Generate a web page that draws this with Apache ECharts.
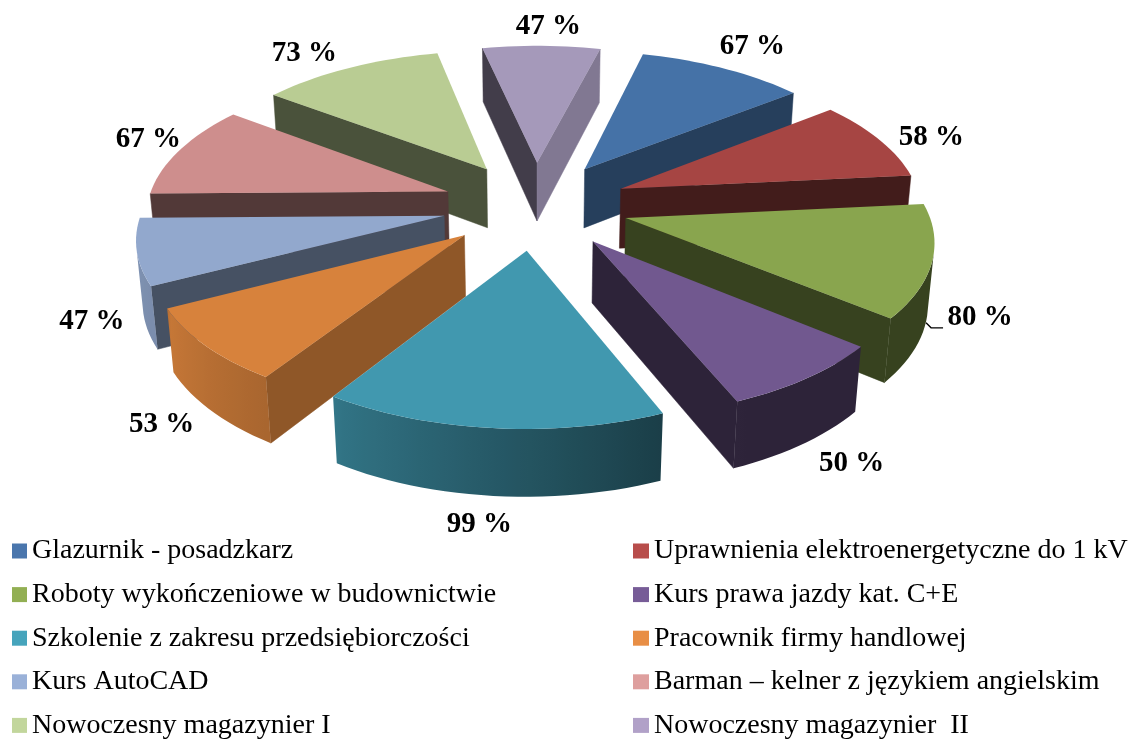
<!DOCTYPE html>
<html>
<head>
<meta charset="utf-8">
<style>
  html, body { margin: 0; padding: 0; background: #fff; }
  #chart { width: 1131px; height: 740px; }
</style>
</head>
<body>
<div id="chart"></div>
<script src="https://cdn.jsdelivr.net/npm/echarts@6/dist/echarts.min.js"></script>
<script>
const categories = [
  'Glazurnik - posadzkarz',
  'Uprawnienia elektroenergetyczne do 1 kV',
  'Roboty wykończeniowe w budownictwie',
  'Kurs prawa jazdy kat. C+E',
  'Szkolenie z zakresu przedsiębiorczości',
  'Pracownik firmy handlowej',
  'Kurs AutoCAD',
  'Barman – kelner z językiem angielskim',
  'Nowoczesny magazynier I',
  'Nowoczesny magazynier  II'
]
const values = [67, 58, 80, 50, 99, 53, 47, 67, 73, 47]
const topColors = ['#4572A7', '#A64543', '#89A54E', '#71588F', '#4198AF', '#D7823C', '#92A8CD', '#CE8E8D', '#B9CC93', '#A599BA']
const legendColors = ['#4A76AD', '#B84D4B', '#92AF53', '#775C97', '#46A4BC', '#E88E45', '#9AB1D8', '#DE9F9E', '#C2D69C', '#B1A1C8']
// label position relative to the middle of the slice's outer arc
const labelOffsets = [[29, -22], [52, -2], [48, 56], [44, 86], [-13, 96], [-44, 79], [-45, 69], [-31, -11], [-45, -14], [7, -19]]

// 3d view, fitted by eye to the picture
const FIRST_ANGLE = 14.2
const EXPLODE = 0.31
const HEIGHT = 0.23
const CAM_DIST = 6.8
const FOCAL = 2045
const ELEV = 28.2 * Math.PI / 180
const CX = 535.5
const CY = 205
const LEADER_SLICE = 2 // only the 80 % label has a leader line

const sinE = Math.sin(ELEV)
const cosE = Math.cos(ELEV)
const total = values.reduce((s, v) => s + v, 0)
const rad = (a) => a * Math.PI / 180

function project(x, y, z) {
  const w = CAM_DIST + y * cosE - z * sinE
  return [CX + FOCAL * x / w, CY - FOCAL * (y * sinE + z * cosE) / w]
}

function shade(hex, k) {
  const n = parseInt(hex.slice(1), 16)
  const c = [n >> 16, (n >> 8) & 255, n & 255].map((v) => Math.round(v * k))
  return `rgb(${c.join(',')})`
}

// side walls: brightest when they look to the right
function wallShade(normalDeg) {
  return Math.max(0.4, 0.79 - (normalDeg - 103) * 0.0062)
}

// outer rim: dark on the right, light on the left, with a step between orange and periwinkle
function arcShade(a) {
  if (a <= 156) return 0.4
  if (a <= 212) return 0.4 + (a - 156) / 56 * 0.36
  if (a <= 242) return 0.78 + (a - 212) / 30 * 0.14
  return 0.84 + (Math.min(a, 268) - 242) / 26 * 0.06
}

function facesCamera(nx, ny, px, py) {
  return nx * (0 - px) + ny * (-CAM_DIST * cosE - py) > 0
}

function buildSlice(i) {
  let start = FIRST_ANGLE
  for (let k = 0; k < i; k++) start += values[k] / total * 360
  const end = start + values[i] / total * 360
  const mid = (start + end) / 2
  const ox = EXPLODE * Math.sin(rad(mid))
  const oy = EXPLODE * Math.cos(rad(mid))
  const pt = (a) => [ox + Math.sin(rad(a)), oy + Math.cos(rad(a))]
  const color = topColors[i]
  const children = []

  const addWall = (a, normalDeg) => {
    const p = pt(a)
    const nx = Math.sin(rad(normalDeg))
    const ny = Math.cos(rad(normalDeg))
    if (!facesCamera(nx, ny, (p[0] + ox) / 2, (p[1] + oy) / 2)) return
    const fill = shade(color, wallShade((normalDeg + 360) % 360))
    children.push({
      type: 'polygon',
      shape: { points: [project(ox, oy, 0), project(p[0], p[1], 0), project(p[0], p[1], -HEIGHT), project(ox, oy, -HEIGHT)] },
      style: { fill, stroke: fill, lineWidth: 0.5 }
    })
  }
  addWall(start, start - 90)
  addWall(end, end + 90)

  // rim: one polygon over the part facing us, shading goes in a horizontal gradient
  const steps = Math.ceil((end - start) / 2)
  const rimTop = []
  const rimBottom = []
  const rimAngles = []
  for (let s = 0; s <= steps; s++) {
    const a = start + (end - start) * s / steps
    const p = pt(a)
    if (!facesCamera(Math.sin(rad(a)), Math.cos(rad(a)), p[0], p[1])) continue
    rimTop.push(project(p[0], p[1], 0))
    rimBottom.unshift(project(p[0], p[1], -HEIGHT))
    rimAngles.push(a % 360)
  }
  if (rimTop.length > 1) {
    const xs = rimTop.map((p) => p[0])
    const x0 = Math.min(...xs)
    const x1 = Math.max(...xs)
    const stops = rimAngles
      .map((a, k) => ({ offset: (xs[k] - x0) / (x1 - x0), color: shade(color, arcShade(a)) }))
      .sort((a, b) => a.offset - b.offset)
    const fill = new echarts.graphic.LinearGradient(x0, 0, x1, 0, stops, true)
    children.push({
      type: 'polygon',
      shape: { points: rimTop.concat(rimBottom) },
      style: { fill }
    })
  }

  // top face
  const top = [project(ox, oy, 0)]
  for (let s = 0; s <= steps; s++) {
    const p = pt(start + (end - start) * s / steps)
    top.push(project(p[0], p[1], 0))
  }
  children.push({ type: 'polygon', shape: { points: top }, style: { fill: color } })

  // value label
  const outer = pt(mid)
  const anchor = project(outer[0], outer[1], 0)
  const lx = anchor[0] + labelOffsets[i][0]
  const ly = anchor[1] + labelOffsets[i][1]
  children.push({
    type: 'text',
    z2: 10,
    style: {
      x: lx,
      y: ly,
      text: values[i] + ' %',
      align: 'center',
      verticalAlign: 'middle',
      font: 'bold 29px "Liberation Serif"',
      fill: '#000'
    }
  })
  if (i === LEADER_SLICE) {
    children.push({
      type: 'polyline',
      shape: { points: [[lx - 54, ly + 5], [lx - 49, ly + 10], [lx - 37, ly + 10]] },
      style: { stroke: '#000', lineWidth: 1.3, fill: 'none' }
    })
  }
  return { type: 'group', children }
}

// back slices first, the front ones paint over them
const bisectorDepth = values.map((v, i) => {
  let start = FIRST_ANGLE
  for (let k = 0; k < i; k++) start += values[k] / total * 360
  return Math.cos(rad(start + v / total * 180))
})
const order = values.map((v, i) => i).sort((a, b) => bisectorDepth[b] - bisectorDepth[a])

const series = categories.map((name, i) => ({
  type: 'custom',
  name,
  coordinateSystem: 'none',
  z: 2 + order.indexOf(i),
  silent: true,
  itemStyle: { color: topColors[i] },
  data: [[values[i]]],
  renderItem: () => buildSlice(i)
}))

const legendBase = {
  orient: 'vertical',
  top: 537,
  itemHeight: 15,
  itemGap: 15.6,
  selectedMode: false,
  icon: 'rect',
  padding: 0,
  textStyle: { fontFamily: 'Liberation Serif', fontSize: 28, lineHeight: 28, color: '#000' }
}
const legendItems = categories.map((name, i) => ({ name, itemStyle: { color: legendColors[i] } }))

const chart = echarts.init(document.getElementById('chart'))
chart.setOption({
  animation: false,
  backgroundColor: '#fff',
  legend: [
    { ...legendBase, left: 12, itemWidth: 15, data: legendItems.filter((d, i) => i % 2 === 0) },
    { ...legendBase, left: 633, itemWidth: 16, data: legendItems.filter((d, i) => i % 2 === 1) }
  ],
  series
})
</script>
</body>
</html>
